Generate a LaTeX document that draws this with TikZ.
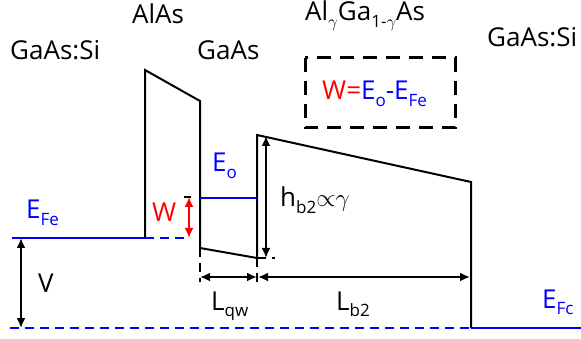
\documentclass[tikz,border=0pt]{standalone}
\usepackage{fontspec}
\setmainfont{Open Sans}
\usetikzlibrary{arrows.meta}
\newcommand{\lowsub}[1]{\raisebox{-0.45ex}{\fontsize{17}{17}\selectfont #1}}
\begin{document}
\begin{tikzpicture}[x=1pt,y=-1pt,
  band/.style={line width=2pt,line join=miter},
  fermi/.style={draw=blue,line width=2pt},
  fermidash/.style={draw=blue,line width=2pt,dash pattern=on 9pt off 6pt},
  guide/.style={line width=1.6pt,dash pattern=on 9pt off 6pt},
  dim/.style={line width=2pt,{Latex[length=10pt,width=9pt]}-{Latex[length=10pt,width=9pt]}},
  lbl/.style={inner sep=0pt,anchor=base west,font=\fontsize{26}{26}\selectfont}]
\useasboundingbox (0,0) rectangle (581,339);
% coordinates
\coordinate (f0) at (12,238);
\coordinate (b1) at (145,238);
\coordinate (b2) at (145,70);
\coordinate (b3) at (200,101);
\coordinate (b4) at (200,248);
\coordinate (q2) at (257,258);
\coordinate (q3) at (257,135);
\coordinate (r1) at (471,182);
\coordinate (r2) at (471,328);
\coordinate (r3) at (581,328);
\coordinate (z0) at (10,328);
\coordinate (fd) at (190,238);
\coordinate (eo0) at (200,198);
\coordinate (eo1) at (257,198);
\coordinate (wt) at (189,197);
\coordinate (wb) at (189,238);
\coordinate (wk0) at (184,197);
\coordinate (wk1) at (191,197);
\coordinate (ht) at (266,136);
\coordinate (hb) at (266,258);
\coordinate (hd) at (275,258);
\coordinate (d1) at (200,282);
\coordinate (d2) at (257,282);
\coordinate (lq0) at (200,277);
\coordinate (lq1) at (257,277);
\coordinate (lb0) at (258,277);
\coordinate (lb1) at (470,277);
\coordinate (vt) at (21,238);
\coordinate (vb) at (21,328);
% band edges
\draw[band] (b1) -- (b2) -- (b3) -- (b4) -- (q2) -- (q3) -- (r1) -- (r2);
% Fermi levels
\draw[fermi] (f0) -- (b1);
\draw[fermidash] (b1) -- (fd);
\draw[fermidash] (z0) -- (r2);
\draw[fermi] (r2) -- (r3);
\draw[draw=blue,line width=1.6pt] (eo0) -- (eo1);
% W
\draw[line width=1.6pt] (wk0) -- (wk1);
\draw[dim,red] (wt) -- (wb);
% h_b2
\draw[dim] (ht) -- (hb);
\draw[guide] (q2) -- (hd);
% guides
\draw[guide] (b4) -- (d1);
\draw[guide] (q2) -- (d2);
\draw[dim] (lq0) -- (lq1);
\draw[dim] (lb0) -- (lb1);
\draw[dim] (vt) -- (vb);
% dashed box
\draw[line width=3pt,dash pattern=on 14pt off 9pt] (305,58) rectangle (455,128);
% labels
\node[lbl] (t1) at (10,60) {GaAs:Si};
\node[lbl] (t2) at (132,24) {AlAs};
\node[lbl] (t3) at (197,60) {GaAs};
\node[lbl] (t4) at (305,21) {Al\lowsub{$\gamma$}Ga\lowsub{1-$\gamma$}As};
\node[lbl] (t5) at (487,47) {GaAs:Si};
\node[lbl] (t6) at (322,100) {\textcolor{red}{W=}\textcolor{blue}{E\lowsub{o}-E\lowsub{Fe}}};
\node[lbl,blue] (t7) at (26,219) {E\lowsub{Fe}};
\node[lbl,blue] (t8) at (212,172) {E\lowsub{o}};
\node[lbl,red] (t9) at (152,222) {W};
\node[lbl] (t10) at (280,207) {h\lowsub{b2}${\propto}\gamma$};
\node[lbl] (t11) at (211,310) {L\lowsub{qw}};
\node[lbl] (t12) at (336,310) {L\lowsub{b2}};
\node[lbl] (t13) at (38,292) {V};
\node[lbl,blue] (t14) at (542,308) {E\lowsub{Fc}};
\end{tikzpicture}
\end{document}
